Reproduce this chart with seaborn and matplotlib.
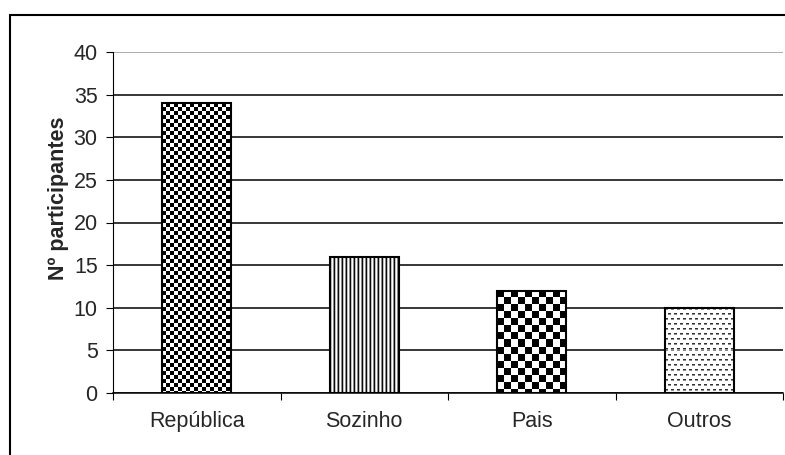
import numpy as np
import pandas as pd
import matplotlib
matplotlib.use('Agg')
import matplotlib.pyplot as plt
import seaborn as sns
from matplotlib.patches import Rectangle

categorias = ['República', 'Sozinho', 'Pais', 'Outros']
participantes = [34, 16, 12, 10]
y_ticks = [0, 5, 10, 15, 20, 25, 30, 35, 40]

df = pd.DataFrame({'Habitação': categorias, 'N': participantes})

sns.set_style('white')
plt.rcParams['font.family'] = ['Liberation Sans', 'DejaVu Sans']

W, H = 785, 455
fig = plt.figure(figsize=(W / 100, H / 100), dpi=100)
ax = fig.add_axes([113 / W, (H - 393) / H, (783 - 113) / W, (393 - 52) / H])

sns.barplot(data=df, x='Habitação', y='N', color='white', edgecolor='black',
            linewidth=1.5, width=0.41, ax=ax, zorder=3)
ax.set_xlim(-0.5, 3.5)
ax.set_ylim(0, 40)
ax.set_yticks(y_ticks)
ax.set_axisbelow(True)
ax.yaxis.grid(True, color='black', linewidth=1.1)
gl = ax.yaxis.get_gridlines()
gl[-1].set_color('#999999')

for s in ['top', 'right']:
    ax.spines[s].set_visible(False)
ax.spines['left'].set_linewidth(0.8)
ax.spines['bottom'].set_linewidth(1.1)
ax.spines['left'].set_color('black')
ax.spines['bottom'].set_color('black')

ax.tick_params(axis='y', which='major', direction='out', length=5, width=0.8,
               color='black', pad=6, labelsize=15.5, left=True)
ax.set_xticks([-0.5, 0.5, 1.5, 2.5, 3.5], minor=True)
ax.tick_params(axis='x', which='minor', direction='out', length=5, width=0.8,
               color='black', bottom=True)
ax.tick_params(axis='x', which='major', length=0, pad=13, labelsize=15.5)
ax.set_xlabel('')
ax.set_ylabel('Nº participantes', fontsize=15.5, fontweight='bold')
ax.yaxis.set_label_coords(-0.066, 0.572)


# fill patterns for the bars (pixel based)
def pat_republica(h, w):
    i, j = np.mgrid[0:h, 0:w]
    img = np.ones((h, w))
    u, v = i % 8, j % 8
    # black squares
    sq = ((np.abs(u - 1.5) < 1.8) & (np.abs(v - 5.5) < 1.8)) | \
         ((np.abs(u - 5.5) < 1.8) & (np.abs(v - 1.5) < 1.8))
    img[sq] = 0.0
    for cu, cv in [(1.5, 1.5), (5.5, 5.5), (9.5, 1.5), (1.5, 9.5), (-2.5, 5.5), (5.5, -2.5)]:
        d = np.sqrt((u - cu) ** 2 + (v - cv) ** 2)
        ring = (d > 2.3) & (d < 3.2)
        img[ring & ~sq] = 0.4
    return img


def pat_sozinho(h, w):
    row = np.array([0.05, 0.75, 1.0, 0.55])
    return np.tile(row[np.arange(w) % 4], (h, 1))


def pat_pais(h, w):
    i, j = np.mgrid[0:h, 0:w]
    return (((i // 7) + (j // 7)) % 2).astype(float)


def pat_outros(h, w):
    i, j = np.mgrid[0:h, 0:w]
    img = np.ones((h, w))
    r = i % 5
    off = ((i // 5) % 2) * 3
    dash = ((j + off) % 6) < 3
    img[(r == 1) & dash] = 0.2
    img[(r == 2) & dash] = 0.55
    return img


padroes = [pat_republica, pat_sozinho, pat_pais, pat_outros]

for patch, fn in zip(ax.patches, padroes):
    x0, y0 = patch.get_x(), patch.get_y()
    x1, y1 = x0 + patch.get_width(), y0 + patch.get_height()
    (px0, py0), (px1, py1) = ax.transData.transform([(x0, y0), (x1, y1)])
    w = max(int(round(px1 - px0)), 1)
    h = max(int(round(py1 - py0)), 1)
    img = fn(h, w)
    im = ax.imshow(img, cmap='gray', vmin=0, vmax=1, extent=(x0, x1, y0, y1),
                   interpolation='nearest', aspect='auto', zorder=2)
    im.set_clip_path(patch)
    patch.set_facecolor('none')

ax.set_xlim(-0.5, 3.5)
ax.set_ylim(0, 40)

# outer chart border (runs off the right and bottom edges)
fig.patches.append(Rectangle((10 / W, -0.2), 1.5, (H - 15) / H + 0.2,
                             transform=fig.transFigure, fill=False,
                             edgecolor='black', linewidth=1.5))

fig.savefig('out.png', dpi=100)
